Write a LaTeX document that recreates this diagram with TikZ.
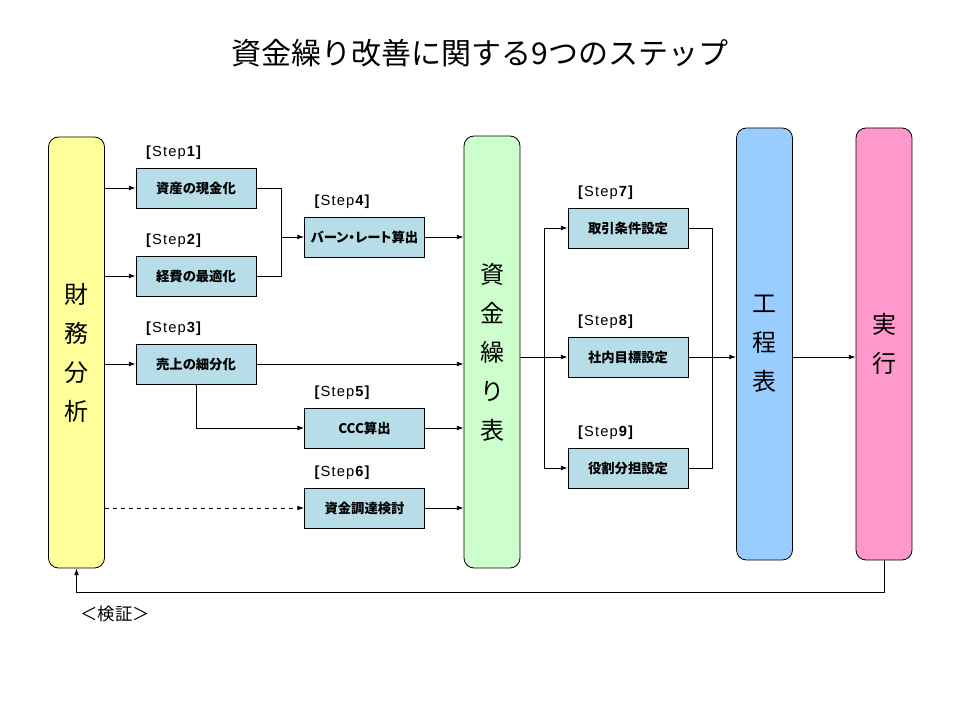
\documentclass[tikz,border=0pt]{standalone}
\usepackage{fontspec}
\newfontfamily\jpfont{Noto Sans CJK JP}
\newfontfamily\jpbox[RawFeature=+palt]{Noto Sans CJK JP}
\newfontfamily\stepfont[LetterSpace=8]{Liberation Sans}
\usetikzlibrary{positioning,arrows.meta}

\definecolor{zaimuyellow}{RGB}{255,255,153}
\definecolor{shikingreen}{RGB}{204,255,204}
\definecolor{kouteiblue}{RGB}{153,204,255}
\definecolor{jikkoupink}{RGB}{255,153,204}
\definecolor{stepteal}{RGB}{183,222,232}

\newcommand{\steptag}[1]{\textbf{[}Step\textbf{#1]}}

\tikzset{
  bigbox/.style={draw, rounded corners=7.5pt, minimum width=42pt, minimum height=324pt,
    inner sep=0pt, align=center, font=\jpfont\fontsize{18}{29.25}\selectfont},
  stepbox/.style={draw, fill=stepteal, minimum width=90pt, minimum height=30pt,
    inner sep=0pt, font=\jpbox\bfseries\fontsize{10}{12}\selectfont},
  steplbl/.style={anchor=west, inner sep=0pt, font=\stepfont\fontsize{11}{13}\selectfont},
  arr/.style={-{Latex[length=5pt,width=3.5pt]}},
}

\begin{document}
\begin{tikzpicture}[x=0.75pt, y=-0.75pt, line width=0.6pt]
    \fill[white] (0,0) rectangle (960,720);
    \useasboundingbox (0,0) rectangle (960,720);

    \node[font=\jpfont\fontsize{22.5}{27}\selectfont] (title) at (480,53) {資金繰り改善に関する9つのステップ};

    % main columns
    \node[bigbox, fill=zaimuyellow, minimum height=323.25pt] (zaimu)  at (76.5,352.5) {財\\務\\分\\析};
    \node[bigbox, fill=shikingreen]  (shikin) at (492,352)   {資\\金\\繰\\り\\表};
    \node[bigbox, fill=kouteiblue]   (koutei) at (764.5,344) {工\\程\\表};
    \node[bigbox, fill=jikkoupink]   (jikkou) at (884,344)   {実\\行};

    % steps
    \node[stepbox] (s1) at (196,188)   {資産の現金化};
    \node[stepbox] (s2) at (196,276)   {経費の最適化};
    \node[stepbox] (s3) at (196,364)   {売上の細分化};
    \node[stepbox] (s4) at (364.5,237) {バーン・レート算出};
    \node[stepbox] (s5) at (364.5,428) {CCC算出};
    \node[stepbox] (s6) at (364.5,508) {資金調達検討};
    \node[stepbox] (s7) at (628,228)   {取引条件設定};
    \node[stepbox] (s8) at (628,357)   {社内目標設定};
    \node[stepbox] (s9) at (628,468)   {役割分担設定};
    \foreach \n in {1,...,9}
        \node[steplbl] (l\n) at ([xshift=7.5pt,yshift=11.25pt]s\n.north west) {\steptag{\n}};

    \coordinate[left=17.25pt of s4.west] (j1);
    \coordinate[left=17.25pt of s8.west] (j2);
    \coordinate[right=18pt of s8.east]   (j3);

    % left half
    \draw[arr] (s1.west -| zaimu.east) -- (s1.west);
    \draw[arr] (s2.west -| zaimu.east) -- (s2.west);
    \draw[arr] (s3.west -| zaimu.east) -- (s3.west);
    \draw[arr, dashed] (s6.west -| zaimu.east) -- (s6.west);
    \draw (s1.east) -| (j1) |- (s2.east);
    \draw[arr] (j1) -- (s4.west);
    \draw[arr] (s3.south) |- (s5.west);
    \draw[arr] (s4.east) -- (s4.east -| shikin.west);
    \draw[arr] (s3.east) -- (s3.east -| shikin.west);
    \draw[arr] (s5.east) -- (s5.east -| shikin.west);
    \draw[arr] (s6.east) -- (s6.east -| shikin.west);

    % right half
    \draw[arr] (s8.west -| shikin.east) -- (s8.west);
    \draw[arr] (j2) |- (s7.west);
    \draw[arr] (j2) |- (s9.west);
    \draw (s7.east) -| (j3) |- (s9.east);
    \draw[arr] (s8.east) -- (s8.east -| koutei.west);
    \draw[arr] (s8.east -| koutei.east) -- (s8.east -| jikkou.west);

    % feedback
    \draw[arr] (jikkou.south) -- ++(0,32) -| (zaimu.south);
    \node[font=\jpfont\fontsize{13}{15}\selectfont] (kensho) at (115,614) {＜検証＞};
\end{tikzpicture}
\end{document}
